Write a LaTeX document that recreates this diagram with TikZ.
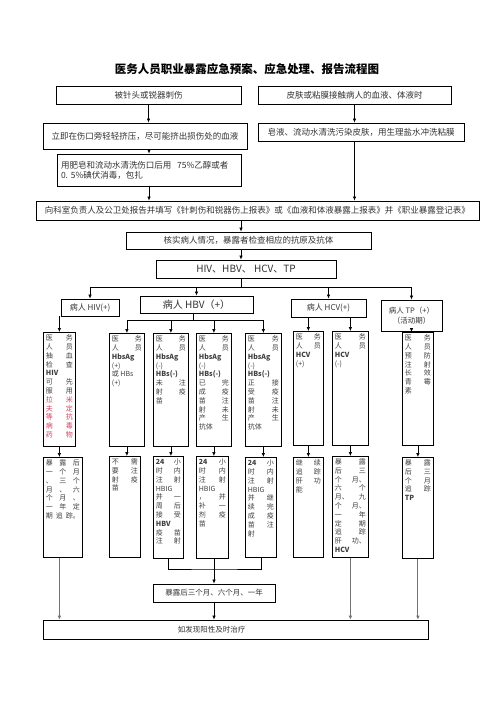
\documentclass[tikz,border=0pt]{standalone}
\usepackage{fontspec}
\setmainfont{Noto Sans CJK SC}
\usetikzlibrary{positioning, arrows.meta, calc}
\definecolor{drug}{RGB}{214,64,96}
\tikzset{
  box/.style={
    draw,
    rectangle,
    line width=0.8pt,
    inner sep=0pt,
    align=center,
    text=black!80,
    font=\fontsize{8.5}{10}\selectfont
  },
  colbox/.style={
    draw,
    rectangle,
    line width=0.8pt,
    inner sep=2.5pt,
    anchor=north west,
    text=black!75,
    font=\fontsize{7}{8.8}\selectfont
  },
  arr/.style={
    line width=0.7pt,
    -{Latex[length=4pt, width=3.6pt]}
  },
  garr/.style={
    arr,
    draw=black!55,
    line width=1pt
  }
}

\begin{document}
\begin{tikzpicture}[x=1pt, y=-1pt]
    \path[use as bounding box, fill=white] (0,0) rectangle (496,702);

    \node[font=\fontsize{11.5}{13}\selectfont\bfseries] (title) at (247,69) {医务人员职业暴露应急预案、应急处理、报告流程图};

    % first steps
    \node[box, minimum width=185, minimum height=18] (stab) at (148.5,95) {被针头或锐器刺伤};
    \node[box, minimum width=193, minimum height=18] (skin) at (354.5,95) {皮肤或粘膜接触病人的血液、体液时};
    \node[box, minimum width=204, minimum height=26] (squeeze) at (145,136) {立即在伤口旁轻轻挤压，尽可能挤出损伤处的血液};
    \node[box, minimum width=206, minimum height=18] (wash) at (361,132) {皂液、流动水清洗污染皮肤，用生理盐水冲洗粘膜};
    \node[box, minimum width=184, minimum height=32, text width=176, align=left] (clean) at (149,170) {用肥皂和流动水清洗伤口后用~~75\%乙醇或者\\0.~5\%碘伏消毒，包扎};
    \node[box, minimum width=443, minimum height=19] (report) at (257.5,210.5) {向科室负责人及公卫处报告并填写《针刺伤和锐器伤上报表》或《血液和体液暴露上报表》并《职业暴露登记表》};
    \node[box, minimum width=245, minimum height=17] (check) at (248.5,240.5) {核实病人情况，暴露者检查相应的抗原及抗体};
    \node[box, minimum width=180, minimum height=18, font=\fontsize{10}{12}\selectfont] (types) at (246,269) {HIV、HBV、 HCV、TP};

    \coordinate (spine) at (241,0);
    \coordinate (bus) at (241,287);
    \coordinate (hbvbus) at (193,320);
    \coordinate (join) at (214,569);

    \draw[arr] (stab.south) -- (stab.south |- squeeze.north);
    \draw[arr] (skin.south) -- (skin.south |- wash.north);
    \draw[arr] (squeeze.south -| clean.north) -- (clean.north);
    \draw[arr] (clean.south) -- (clean.south |- report.north);
    \draw[arr] (skin.south |- wash.south) -- (skin.south |- report.north);
    \draw[arr] (report.south -| spine) -- (check.north -| spine);
    \draw[arr] (check.south -| spine) -- (types.north -| spine);

    % patient results
    \node[box, minimum width=58, minimum height=17, font=\fontsize{8}{10}\selectfont] (hivp) at (90,307.5) {病人 HIV(+)};
    \node[box, minimum width=113, minimum height=17, font=\fontsize{10}{12}\selectfont] (hbvp) at (196.5,304.5) {病人 HBV（+）};
    \node[box, minimum width=75, minimum height=18, font=\fontsize{8}{10}\selectfont] (hcvp) at (328.5,308) {病人 HCV(+)};
    \node[box, minimum width=61, minimum height=31, font=\fontsize{7.5}{10}\selectfont] (tpp) at (411.5,315.5) {病人 TP（+）\\（活动期）};

    \draw (types.south -| spine) -- (bus);
    \draw (hivp.north |- bus) -- (tpp.north |- bus);
    \foreach \p in {hivp, hbvp, hcvp, tpp}
        \draw[arr] (\p.north |- bus) -- (\p.north);

    % staff status
    \node[colbox] (hiv1) at (43,332) {\parbox[t][109pt][t]{27pt}{医\hfill 务\\人\hfill 员\\抽\hfill 血\\检\hfill 查\\\textbf{HIV}\\可\hfill 先\\服\hfill 用\\{\color{drug}拉\hfill 米\\夫\hfill 定\\等\hfill 抗\\病\hfill 毒\\药\hfill 物}}};
    \node[colbox] (hbv1) at (109,333) {\parbox[t][108pt][t]{30pt}{医\hfill 务\\人\hfill 员\\\textbf{HbsAg}\\(+)\\或 HBs\\(+)}};
    \node[colbox] (hbv2) at (153,333) {\parbox[t][108pt][t]{30pt}{医\hfill 务\\人\hfill 员\\\textbf{HbsAg}\\(-)\\\textbf{HBs(-)}\\未\hfill 注\\射\hfill 疫\\苗}};
    \node[colbox] (hbv3) at (196,333) {\parbox[t][108pt][t]{30pt}{医\hfill 务\\人\hfill 员\\\textbf{HbsAg}\\(-)\\\textbf{HBs(-)}\\已\hfill 完\\成\hfill 疫\\苗\hfill 注\\射\hfill 未\\产\hfill 生\\抗体}};
    \node[colbox] (hbv4) at (245,333) {\parbox[t][108pt][t]{31pt}{医\hfill 务\\人\hfill 员\\\textbf{HbsAg}\\(-)\\\textbf{HBs(-)}\\正\hfill 接\\受\hfill 疫\\苗\hfill 注\\射\hfill 未\\产\hfill 生\\抗体}};
    \node[colbox] (hcv1) at (293,331) {\parbox[t][109pt][t]{25pt}{医\hfill 务\\人\hfill 员\\\textbf{HCV}\\(+)}};
    \node[colbox] (hcv2) at (332,331) {\parbox[t][109pt][t]{31pt}{医\hfill 务\\人\hfill 员\\\textbf{HCV}\\(-)}};
    \node[colbox] (tp1) at (402,332) {\parbox[t][108pt][t]{26pt}{医\hfill 务\\人\hfill 员\\预\hfill 防\\注\hfill 射\\长\hfill 效\\青\hfill 霉\\素}};

    \draw[arr] (hivp.south -| hiv1.north) -- (hiv1.north);
    \draw (hbvp.south -| hbvbus) -- (hbvbus);
    \draw (hbv1.north |- hbvbus) -- (hbv4.north |- hbvbus);
    \foreach \b in {hbv1, hbv2, hbv3, hbv4}
        \draw[arr] (\b.north |- hbvbus) -- (\b.north);
    \draw[arr] (hcvp.south -| hcv1.north) -- (hcv1.north);
    \draw[arr] (hcvp.south -| hcv2.north) -- (hcv2.north);
    \draw[arr] (tpp.south) -- (tpp.south |- tp1.north);

    % measures
    \node[colbox] (hiv2) at (43,457) {\parbox[t][95pt][t]{34pt}{暴\hfill 露\hfill 后\\一\hfill 个\hfill 月\\、\hfill 三\hfill 个\\月\hfill 、\hfill 六\\个\hfill 月\hfill 、\\一\hfill 年\hfill 定\\期\hfill 追\hfill 踪。}};
    \node[colbox] (hbv1b) at (109,456) {\parbox[t][96pt][t]{26pt}{不\hfill 需\\要\hfill 注\\射\hfill 疫\\苗}};
    \node[colbox] (hbv2b) at (153,456) {\parbox[t][97pt][t]{25pt}{\textbf{24}\hfill 小\\时\hfill 内\\注\hfill 射\\HBIG\\并\hfill 一\\周\hfill 后\\接\hfill 受\\\textbf{HBV}\\疫\hfill 苗\\注\hfill 射}};
    \node[colbox] (hbv3b) at (196,456) {\parbox[t][97pt][t]{27pt}{\textbf{24}\hfill 小\\时\hfill 内\\注\hfill 射\\HBIG\\，\hfill 并\\补\hfill 一\\剂\hfill 疫\\苗}};
    \node[colbox] (hbv4b) at (245,457) {\parbox[t][95pt][t]{26pt}{\textbf{24}\hfill 小\\时\hfill 内\\注\hfill 射\\HBIG\\并\hfill 继\\续\hfill 完\\成\hfill 疫\\苗\hfill 注\\射}};
    \node[colbox] (hcv1b) at (293,457) {\parbox[t][95pt][t]{25pt}{继\hfill 续\\追\hfill 踪\\肝\hfill 功\\能}};
    \node[colbox] (hcv2b) at (332,456) {\parbox[t][96pt][t]{31pt}{暴\hfill 露\\后\hfill 三\\个\hfill 月、\\六\hfill 个\\月、\hfill 九\\个\hfill 月、\\一\hfill 年\\定\hfill 期\\追\hfill 踪\\肝\hfill 功、\\\textbf{HCV}}};
    \node[colbox] (tp2) at (402,457) {\parbox[t][96pt][t]{26pt}{暴\hfill 露\\后\hfill 三\\个\hfill 月\\追\hfill 踪\\\textbf{TP}}};

    \draw[arr] (hiv1.south) -- (hiv1.south |- hiv2.north);
    \draw[arr] (hbv1.south) -- (hbv1.south |- hbv1b.north);
    \draw[arr] (hbv2.south) -- (hbv2.south |- hbv2b.north);
    \draw[arr] (hbv3.south) -- (hbv3.south |- hbv3b.north);
    \draw[arr] (hbv4.south) -- (hbv4.south |- hbv4b.north);
    \draw[arr] (hcv1.south) -- (hcv1.south |- hcv1b.north);
    \draw[arr] (hcv2.south) -- (hcv2.south |- hcv2b.north);
    \draw[arr] (tp1.south) -- (tp1.south |- tp2.north);

    % follow up
    \node[box, minimum width=122, minimum height=18, font=\fontsize{7.5}{9}\selectfont] (follow) at (214,593) {暴露后三个月、六个月、一年};
    \node[box, minimum width=385, minimum height=19, font=\fontsize{7.5}{9}\selectfont] (treat) at (235.5,629.5) {如发现阳性及时治疗\hspace*{48pt}};

    \draw (hbv2b.south) |- (join) -| (hbv4b.south);
    \draw[arr] (follow.north |- hbv3b.south) -- (follow.north);
    \draw[arr] (follow.south) -- (follow.south |- treat.north);
    \draw[garr] (hiv1.south |- hiv2.south) -- (hiv1.south |- treat.north);
    \draw[garr] (hcv2b.south) -- (hcv2b.south |- treat.north);
    \draw[garr] (tp2.south) -- (tp2.south |- treat.north);
\end{tikzpicture}
\end{document}
